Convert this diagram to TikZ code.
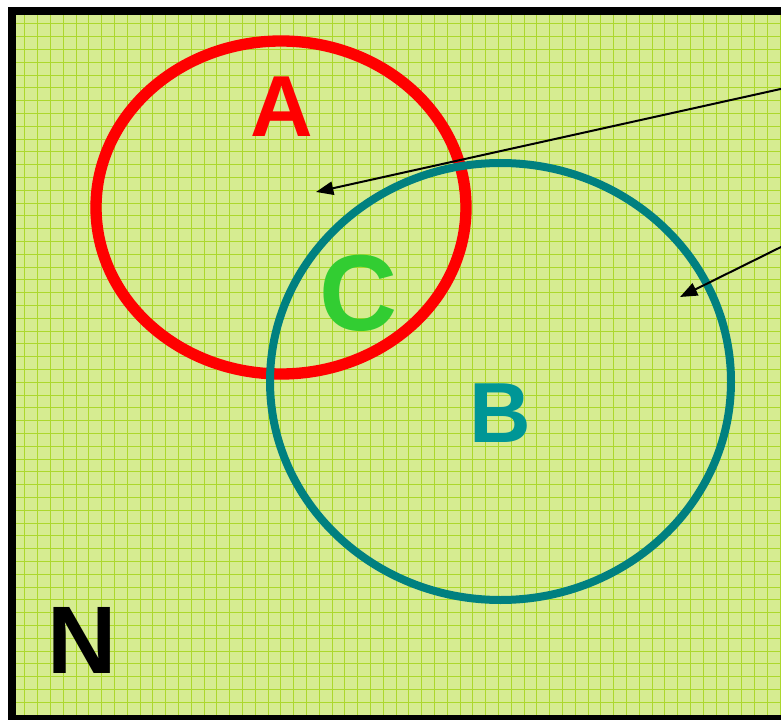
\documentclass[tikz,border=0pt]{standalone}
\usepackage{fontspec}
\setmainfont{Liberation Sans}
\usetikzlibrary{arrows.meta}

\definecolor{setred}{RGB}{255,0,0}
\definecolor{setteal}{RGB}{0,128,128}
\definecolor{labteal}{RGB}{0,150,150}
\definecolor{setgreen}{RGB}{50,205,50}
\definecolor{paper}{RGB}{214,236,145}
\definecolor{paperline}{RGB}{172,216,45}

\tikzset{
  setlabel/.style={font=\bfseries\fontsize{#1}{#1}\selectfont, anchor=base, inner sep=0pt},
  pointer/.style={-{Triangle[length=13pt,width=10pt]}, line width=1.5pt, black},
}

\begin{document}
\begin{tikzpicture}[x=0.75pt, y=-0.75pt]
    \useasboundingbox (0,0) rectangle (781,720);
    \clip (0,0) rectangle (781,720);

    % Grundmenge
    \fill[white] (0,0) rectangle (781,720);
    \fill[paper] (12,11) rectangle (800,719);
    \foreach \g in {0,...,62} {
        \draw[paperline, line width=0.6pt] (12+12.8*\g, 11) -- (12+12.8*\g, 719);
    }
    \foreach \g in {0,...,56} {
        \draw[paperline, line width=0.6pt] (12, 11+12.8*\g) -- (800, 11+12.8*\g);
    }
    \draw[line width=6pt] (12,11) rectangle (800,719);

    % Mengen
    \draw[setred, line width=8.5pt] (281,207.5) ellipse [x radius=185, y radius=166.5];
    \draw[setteal, line width=6pt] (500.5,381.5) ellipse [x radius=230.5, y radius=218.5];

    % Beschriftungen
    \node[setlabel=65, setred] (labA) at (282,137) {A};
    \node[setlabel=64, labteal] (labB) at (500,442) {B};
    \node[setlabel=81, setgreen] (labC) at (358,330) {C};
    \node[setlabel=72, black] (labN) at (82,673) {N};

    % Pfeile
    \coordinate (srcA) at (800,84.7);
    \coordinate (tipA) at (316,192);
    \coordinate (srcB) at (800,237.6);
    \coordinate (tipB) at (680,297);
    \draw[pointer] (srcA) -- (tipA);
    \draw[pointer] (srcB) -- (tipB);
\end{tikzpicture}
\end{document}
